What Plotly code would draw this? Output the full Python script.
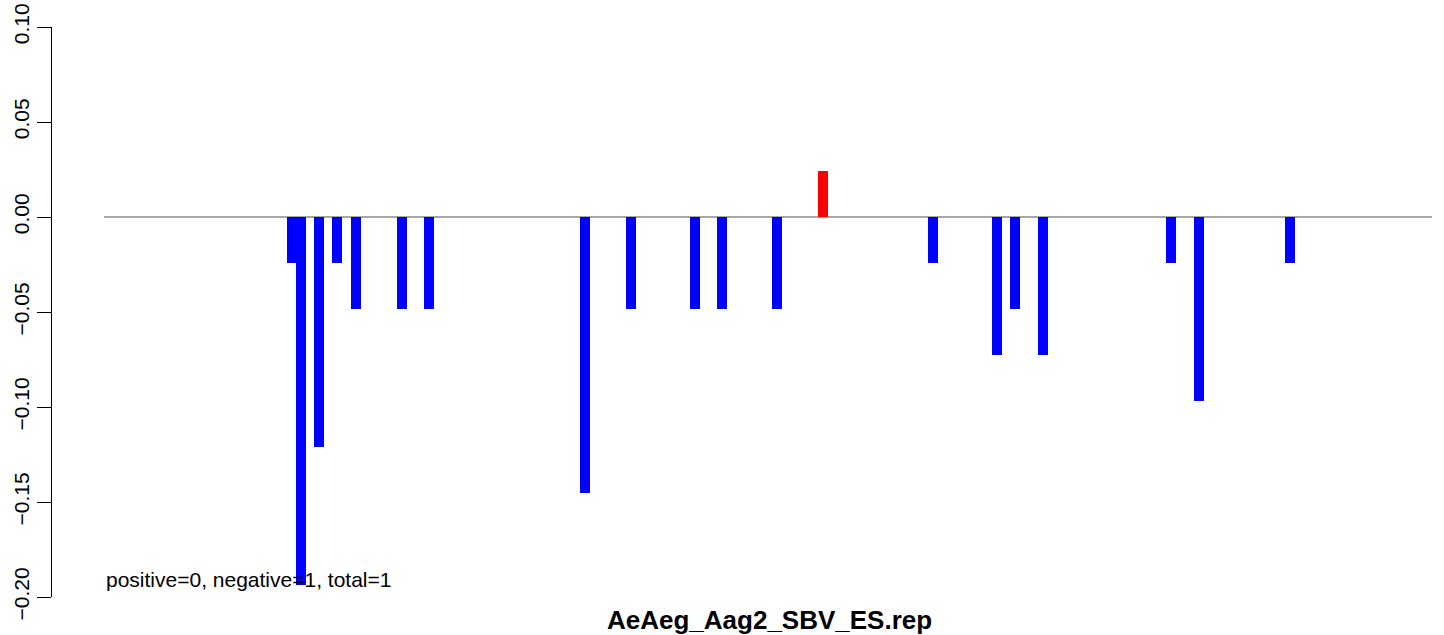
import plotly.graph_objects as go

# positions along the sequence (arbitrary units) and normalized counts
positions = [188, 197, 215, 233, 252, 298, 325, 481, 527, 591, 618, 673,
             719, 829, 893, 911, 939, 1067, 1095, 1186]
values = [-0.0242, -0.1936, -0.1210, -0.0242, -0.0484, -0.0484, -0.0484,
          -0.1452, -0.0484, -0.0484, -0.0484, -0.0484,
          0.0242, -0.0242, -0.0726, -0.0484, -0.0726, -0.0242, -0.0968, -0.0242]
seq_start = 0
seq_end = 1328
y_ticks = [0.10, 0.05, 0.00, -0.05, -0.10, -0.15, -0.20]
y_tick_labels = ["0.10", "0.05", "0.00", "\u22120.05", "\u22120.10", "\u22120.15", "\u22120.20"]
title_text = "AeAeg_Aag2_SBV_ES.rep"
summary_text = "positive=0, negative=1, total=1"

colors = ["#FF0000" if v > 0 else "#0000FF" for v in values]

FONT = "Liberation Sans, Arial, Helvetica, sans-serif"

W, H = 1444, 635
L, T, B, R = 52, 27, 38, 0
plot_w = W - L - R
plot_h = H - T - B

fig = go.Figure()
fig.add_trace(go.Bar(x=positions, y=values, width=10, marker=dict(color=colors, line=dict(width=0)),
                     showlegend=False))

fig.add_shape(type="line", xref="x", yref="y", x0=seq_start, x1=seq_end, y0=0, y1=0,
              line=dict(color="#8a8a8a", width=1.5), layer="below")

fig.add_annotation(xref="x", yref="y", x=seq_start, y=-0.191, text=summary_text,
                   showarrow=False, xanchor="left", yanchor="middle",
                   font=dict(family=FONT, size=21, color="black"))

fig.add_annotation(xref="paper", yref="paper", x=(769 - L) / plot_w, y=-23 / plot_h,
                   text="<b>" + title_text + "</b>", showarrow=False,
                   xanchor="center", yanchor="middle",
                   font=dict(family=FONT, size=26, color="black"))

fig.update_layout(
    width=W, height=H,
    margin=dict(l=L, r=R, t=T, b=B, autoexpand=False),
    plot_bgcolor="white", paper_bgcolor="white",
    bargap=0,
    xaxis=dict(range=[-52, 1340], visible=False, fixedrange=True, automargin=False),
    yaxis=dict(range=[-0.2, 0.1], tickvals=y_ticks, ticktext=y_tick_labels, automargin=False,
               tickangle=-90, ticks="outside", ticklen=14, tickcolor="black", tickwidth=1,
               ticklabeloverflow="allow",
               showline=True, linecolor="black", linewidth=1, showgrid=False, zeroline=False,
               tickfont=dict(family=FONT, size=21, color="black")),
    font=dict(family=FONT),
)

fig.write_html("out.html", config={"displayModeBar": False},
               post_script="document.body.style.margin='0';document.body.style.overflow='hidden';")
